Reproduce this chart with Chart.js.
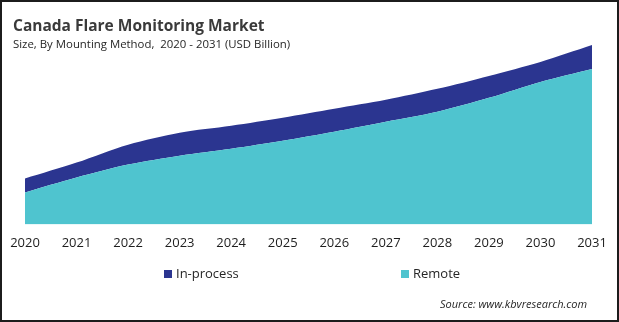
<!DOCTYPE html>
<html>
<head>
<meta charset="utf-8">
<script src="https://cdn.jsdelivr.net/npm/chart.js@4/dist/chart.umd.min.js"></script>
<style>
    html, body { margin: 0; padding: 0; background: #fff; }
    .frame {
        position: relative;
        width: 619px;
        height: 322px;
        box-sizing: border-box;
        border: 2px solid #1c1c1c;
        overflow: hidden;
        font-family: 'Open Sans', sans-serif;
    }
    .title {
        position: absolute; left: 11px; top: 12px;
        font-size: 15.5px; font-weight: 700; color: #3a3a3a;
    }
    .subtitle {
        position: absolute; left: 11px; top: 34px;
        font-size: 11.4px; color: #262626;
    }
    #chartWrap { position: absolute; left: -2px; top: -2px; width: 619px; height: 322px; }
    .legend-item {
        position: absolute; top: 262px;
        font-size: 13px; color: #262626;
    }
    .legend-item span {
        display: inline-block; width: 8px; height: 8px; margin-right: 4px;
    }
    .source {
        position: absolute; left: 438px; top: 294px;
        font-size: 11px; font-style: italic; color: #262626;
    }
</style>
</head>
<body>
<div class="frame">
    <div id="chartWrap"><canvas id="marketChart"></canvas></div>
    <div class="title">Canada Flare Monitoring Market</div>
    <div class="subtitle">Size, By Mounting Method,&nbsp; 2020 - 2031 (USD Billion)</div>
    <div class="legend-item" style="left:162px"><span style="background:#2b3590"></span>In-process</div>
    <div class="legend-item" style="left:399px"><span style="background:#4fc4cf"></span>Remote</div>
    <div class="source">Source: www.kbvresearch.com</div>
</div>
<script>
// Years on the x axis
const years = ['2020', '2021', '2022', '2023', '2024', '2025', '2026', '2027', '2028', '2029', '2030', '2031'];

// Values (stacked, Remote at the bottom)
const remote    = [0.32, 0.47, 0.60, 0.69, 0.76, 0.84, 0.93, 1.03, 1.13, 1.27, 1.43, 1.56];
const inProcess = [0.14, 0.15, 0.20, 0.23, 0.23, 0.23, 0.23, 0.22, 0.23, 0.22, 0.20, 0.24];

const config = {
    type: 'line',
    data: {
        labels: years,
        datasets: [{
            label: 'Remote',
            data: remote,
            backgroundColor: '#4fc4cf',
            borderColor: '#4fc4cf',
            borderWidth: 0,
            fill: 'origin',
            pointRadius: 0,
            tension: 0.3
        }, {
            label: 'In-process',
            data: inProcess,
            backgroundColor: '#2b3590',
            borderColor: '#2b3590',
            borderWidth: 0,
            fill: '-1',
            pointRadius: 0,
            tension: 0.3
        }]
    },
    options: {
        responsive: true,
        maintainAspectRatio: false,
        animation: false,
        layout: {
            padding: { left: 25, right: 27, top: 45, bottom: 68 }
        },
        plugins: {
            legend: { display: false },
            title: { display: false },
            tooltip: { enabled: false }
        },
        scales: {
            x: {
                offset: false,
                grid: { display: false },
                border: { display: false },
                ticks: {
                    color: '#1e1e1e',
                    padding: 3,
                    maxRotation: 0,
                    font: { family: "'Open Sans', sans-serif", size: 13 }
                }
            },
            y: {
                display: false,
                stacked: true,
                min: 0,
                max: 1.80
            }
        }
    }
};

const chartContext = document.getElementById('marketChart').getContext('2d');
const marketChart = new Chart(chartContext, config);
</script>
</body>
</html>
